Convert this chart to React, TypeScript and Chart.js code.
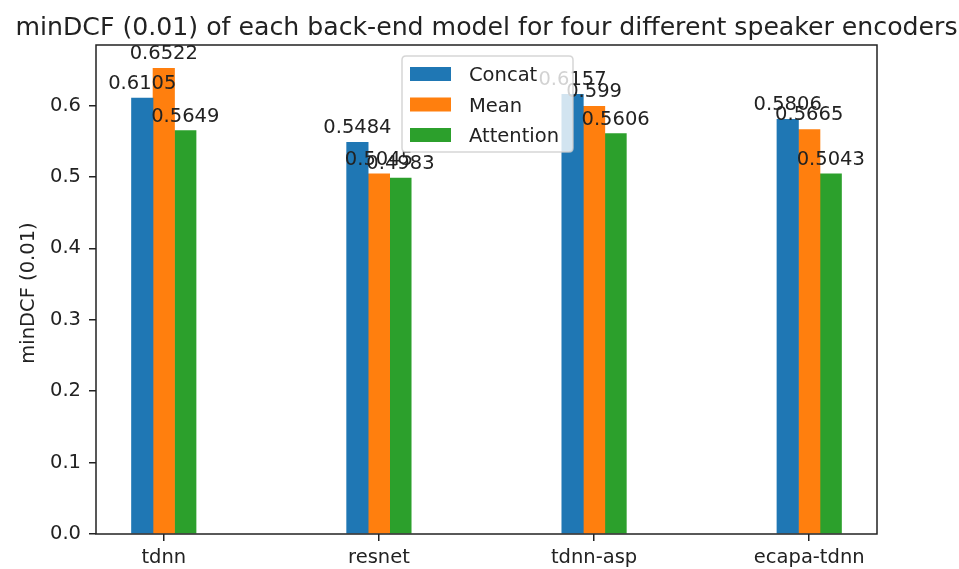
import React, { useEffect, useRef } from "react";
import { Chart, registerables } from "chart.js";

Chart.register(...registerables);

const categories = ["tdnn", "resnet", "tdnn-asp", "ecapa-tdnn"];
const seriesNames = ["Concat", "Mean", "Attention"];
const concatValues = [0.6105, 0.5484, 0.6157, 0.5806];
const meanValues = [0.6522, 0.5045, 0.599, 0.5665];
const attentionValues = [0.5649, 0.4983, 0.5606, 0.5043];
const yTicks = [0, 0.1, 0.2, 0.3, 0.4, 0.5, 0.6];
const titleText = "minDCF (0.01) of each back-end model for four different speaker encoders";
const yLabelText = "minDCF (0.01)";

const colors = ["#1f77b4", "#ff7f0e", "#2ca02c"];
const offsets = [-0.1, 0, 0.1];
const FONT = "DejaVu Sans";
const FS = 19.5;

export default function App() {
  const ref = useRef<HTMLCanvasElement | null>(null);

  useEffect(() => {
    const canvas = ref.current;
    if (!canvas) return;
    const all = [concatValues, meanValues, attentionValues];
    const yMax = Math.max(...all.flat()) * 1.05;

    const overlay = {
      id: "overlay",
      afterDatasetsDraw(chart: any) {
        const ctx = chart.ctx;
        const a = chart.chartArea;
        ctx.save();
        // frame
        ctx.strokeStyle = "#222";
        ctx.lineWidth = 1.5;
        ctx.strokeRect(a.left, a.top, a.right - a.left, a.bottom - a.top);
        // value labels
        ctx.fillStyle = "#222";
        ctx.font = `${FS}px "${FONT}"`;
        ctx.textAlign = "center";
        ctx.textBaseline = "alphabetic";
        chart.data.datasets.forEach((ds: any, di: number) => {
          const meta = chart.getDatasetMeta(di);
          meta.data.forEach((el: any, i: number) => {
            ctx.fillText(String(ds.data[i].y), el.x, el.y - 9);
          });
        });
        // title
        ctx.font = `25.2px "${FONT}"`;
        ctx.fillText(titleText, (a.left + a.right) / 2, 35);
        // y label
        ctx.save();
        ctx.font = `${FS}px "${FONT}"`;
        ctx.translate(34, 293);
        ctx.rotate(-Math.PI / 2);
        ctx.textAlign = "center";
        ctx.fillText(yLabelText, 0, 0);
        ctx.restore();
        // legend
        const lx = 402, ly = 56, lw = 171, lh = 96, r = 4;
        ctx.beginPath();
        ctx.moveTo(lx + r, ly);
        ctx.lineTo(lx + lw - r, ly);
        ctx.quadraticCurveTo(lx + lw, ly, lx + lw, ly + r);
        ctx.lineTo(lx + lw, ly + lh - r);
        ctx.quadraticCurveTo(lx + lw, ly + lh, lx + lw - r, ly + lh);
        ctx.lineTo(lx + r, ly + lh);
        ctx.quadraticCurveTo(lx, ly + lh, lx, ly + lh - r);
        ctx.lineTo(lx, ly + r);
        ctx.quadraticCurveTo(lx, ly, lx + r, ly);
        ctx.closePath();
        ctx.fillStyle = "rgba(255,255,255,0.8)";
        ctx.fill();
        ctx.strokeStyle = "rgba(204,204,204,0.8)";
        ctx.lineWidth = 1.5;
        ctx.stroke();
        const rows = [74, 104.5, 135];
        ctx.font = `${FS}px "${FONT}"`;
        ctx.textAlign = "left";
        chart.data.datasets.forEach((ds: any, di: number) => {
          const cy = rows[di];
          ctx.fillStyle = ds.backgroundColor;
          ctx.fillRect(410, cy - 7, 41, 14);
          ctx.fillStyle = "#222";
          ctx.fillText(ds.label, 469, cy + 7);
        });
        ctx.restore();
      },
    };

    const chart = new Chart(canvas, {
      type: "bar",
      data: {
        datasets: all.map((vals, di) => ({
          label: seriesNames[di],
          data: vals.map((v, i) => ({ x: i + offsets[di], y: v })),
          backgroundColor: colors[di],
          borderWidth: 0,
          barThickness: 21.5,
          grouped: false,
        })),
      },
      options: {
        responsive: false,
        animation: false,
        layout: { padding: { top: 45, right: 82, left: 0, bottom: 0 } },
        plugins: {
          legend: { display: false },
          title: { display: false },
          tooltip: { enabled: false },
        },
        scales: {
          x: {
            type: "linear",
            min: -0.315,
            max: 3.315,
            offset: false,
            afterBuildTicks: (s: any) => {
              s.ticks = categories.map((_, i) => ({ value: i }));
            },
            afterFit: (s: any) => {
              s.height = 35;
            },
            ticks: {
              callback: (v: any) => categories[Math.round(Number(v))] ?? "",
              font: { family: FONT, size: FS },
              color: "#222",
              padding: 5,
              maxRotation: 0,
              autoSkip: false,
            },
            grid: {
              offset: false,
              drawOnChartArea: false,
              drawTicks: true,
              tickLength: 7,
              color: "#222",
              lineWidth: 1.5,
            },
            border: { display: false },
          },
          y: {
            min: 0,
            max: yMax,
            afterBuildTicks: (s: any) => {
              s.ticks = yTicks.map((v) => ({ value: v }));
            },
            afterFit: (s: any) => {
              s.width = 96;
            },
            ticks: {
              callback: (v: any) => Number(v).toFixed(1),
              font: { family: FONT, size: FS },
              color: "#222",
              padding: 8,
            },
            grid: {
              drawOnChartArea: false,
              drawTicks: true,
              tickLength: 7,
              color: "#222",
              lineWidth: 1.5,
            },
            border: { display: false },
          },
        },
      },
      plugins: [overlay],
    } as any);

    return () => chart.destroy();
  }, []);

  return (
    <div style={{ position: "fixed", left: 0, top: 0, width: 959, height: 569, background: "#fff" }}>
      <canvas ref={ref} width={959} height={569} style={{ display: "block" }} />
    </div>
  );
}
